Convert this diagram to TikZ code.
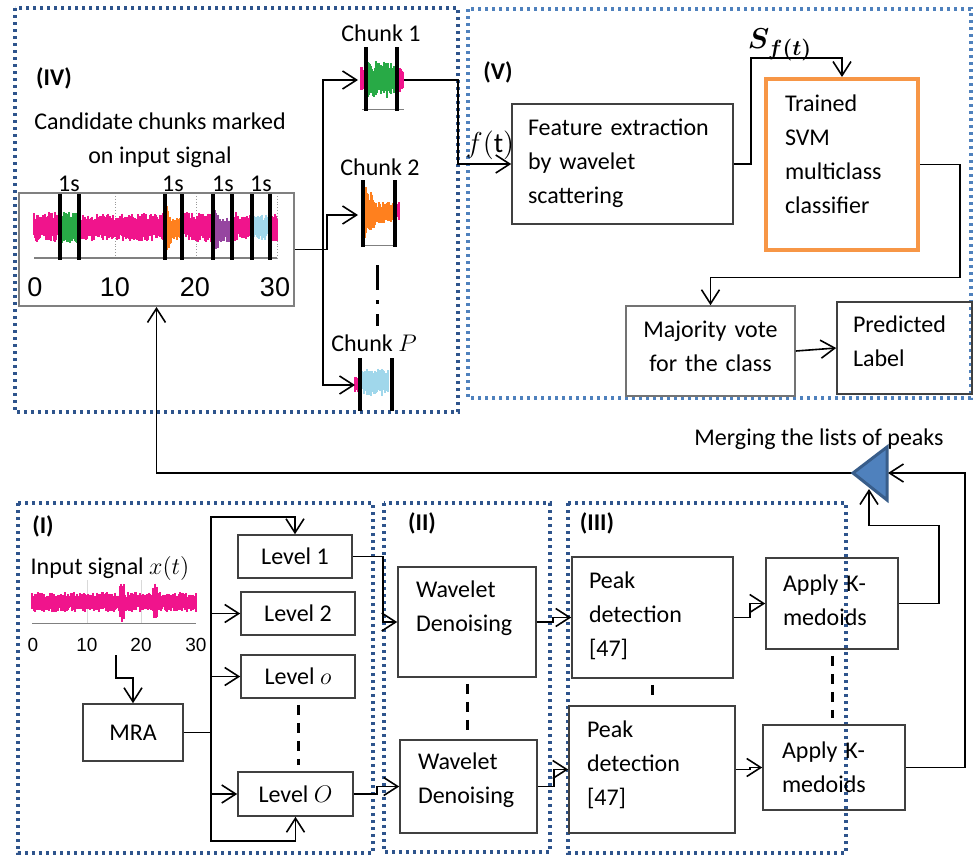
\documentclass[tikz,border=0pt]{standalone}
\usepackage{fontspec}
\setmainfont{Carlito}
\newfontfamily\axisfont{Liberation Sans}
\usepackage{bm}
\usetikzlibrary{arrows.meta,calc}
\tikzset{>={Straight Barb[length=7pt,width=9pt]}}

\definecolor{regdark}{RGB}{46,84,140}
\definecolor{reglight}{RGB}{79,129,189}
\definecolor{svmorange}{RGB}{247,150,70}
\definecolor{mrgfill}{RGB}{79,129,189}
\definecolor{mrgline}{RGB}{56,93,138}
\definecolor{sigpink}{RGB}{240,20,140}
\definecolor{siggreen}{RGB}{40,170,70}
\definecolor{sigorange}{RGB}{255,128,30}
\definecolor{sigpurple}{RGB}{150,70,160}
\definecolor{sigblue}{RGB}{160,215,235}

\tikzset{
  region/.style={line width=1.6pt, dash pattern=on 1.6pt off 1.9pt},
  blk/.style={draw=black!75, line width=0.8pt, inner ysep=0pt},
  lft/.style={blk, align=left, text height=9pt, text depth=#1},
  ctr/.style={blk, align=center},
  link/.style={line width=0.8pt},
  gap/.style={line width=1.5pt, dash pattern=on 5pt off 4pt, shorten <=3pt, shorten >=3pt},
  cut/.style={line width=2pt},
  tag/.style={font=\fontsize{12}{17}\selectfont\bfseries},
}

% noise band: colour, first x, last x, centre y, half height (may use \nx)
\newcommand{\noiseband}[5]{%
  \foreach \nx in {#2,...,#3}{
    \pgfmathsetmacro{\nup}{(#5)*(0.45+0.55*rnd)}
    \pgfmathsetmacro{\ndn}{(#5)*(0.45+0.55*rnd)}
    \draw[#1,line width=0.55pt] (\nx,#4-\nup) -- (\nx,#4+\ndn);
  }}

\begin{document}
\begin{tikzpicture}[x=0.5pt,y=-0.5pt,font=\fontsize{12}{17}\selectfont]
\useasboundingbox (0,0) rectangle (973,857);
\pgfmathsetseed{7}

% Stage frames
\draw[region,regdark]  (15,8)   rectangle (458,412);
\draw[region,reglight] (468,9)  rectangle (971,398);
\draw[region,regdark]  (18,503) rectangle (373,853);
\draw[region,regdark]  (384,503) rectangle (550,852);
\draw[region,regdark]  (568,503) rectangle (846,853);
\node[tag] (tagIV)  at (54,78)   {(IV)};
\node[tag] (tagV)   at (498,72)  {(V)};
\node[tag] (tagI)   at (43,526)  {(I)};
\node[tag] (tagII)  at (422,523) {(II)};
\node[tag] (tagIII) at (597,523) {(III)};

% Input signal with the candidate chunks
\node[align=center] (cand) at (160,140) {Candidate chunks marked\\on input signal};
\node[draw=black!50, line width=1pt, minimum width=137.5pt, minimum height=56.5pt, inner sep=0pt] (sig) at (156.5,249.5) {};
\foreach \g in {115,196,277}
  \draw[black!40, densely dotted, line width=0.4pt] (\g,196) -- (\g,258);
\draw[black!50, line width=0.6pt] (34,258) -- (277,258);
\noiseband{sigpink}{34}{59}{227}{15}
\noiseband{siggreen}{61}{78}{227}{16}
\noiseband{sigpink}{80}{164}{227}{14}
\noiseband{sigorange}{166}{181}{229}{max(12,26-2*(\nx-166))}
\noiseband{sigpink}{183}{212}{227}{15}
\noiseband{sigpurple}{214}{231}{230}{max(13,30-3*(\nx-214))}
\noiseband{sigpink}{233}{251}{227}{15}
\noiseband{sigblue}{253}{269}{227}{13}
\noiseband{sigpink}{271}{277}{227}{15}
\foreach \b in {60,79,165,182,213,232,252,270}
  \draw[cut] (\b,194) -- (\b,260);
\foreach \s/\xp in {a/69,b/173,c/223,d/261}
  \node (one\s) at (\xp,184) {1s};
\foreach \t/\xp in {0/35,10/115,20/195,30/275}
  \node[font=\axisfont\fontsize{13.5}{16}\selectfont] (ax\t) at (\xp,287) {\t};

% Chunk 1
\node (lab1) at (381,33) {Chunk 1};
\noiseband{sigpink}{361}{364}{80}{14}
\noiseband{siggreen}{367}{396}{80}{19}
\noiseband{sigpink}{399}{403}{80}{14}
\draw[black!50, line width=0.5pt] (362,109) -- (404,109);
\draw[cut] (366,47) -- (366,111);
\draw[cut] (397,47) -- (397,111);
\coordinate (c1w) at (358,80);
\coordinate (c1e) at (404,80);

% Chunk 2
\node (lab2) at (380,167) {Chunk 2};
\noiseband{sigorange}{365}{393}{213}{max(11,33-2*(\nx-365))}
\noiseband{sigpink}{396}{399}{211}{13}
\draw[black!50, line width=0.5pt] (365,245) -- (395,245);
\draw[cut] (363,180) -- (363,247);
\draw[cut] (395,180) -- (395,247);
\coordinate (c2w) at (358,215);

% Chunk P
\node (labP) at (374,343) {Chunk $P$};
\noiseband{sigpink}{355}{358}{384}{9}
\noiseband{sigblue}{362}{388}{382}{14}
\draw[cut] (360,358) -- (360,411);
\draw[cut] (392,358) -- (392,411);
\coordinate (cPw) at (355,385);
\draw[line width=1.5pt, dash pattern=on 12.5pt off 5pt on 2pt off 5pt] (377,265) -- (377,326);

% Split into chunks
\draw[link] (sig.east) -- ++(28,0) coordinate (split);
\draw[link,->] (split) |- (c1w);
\draw[link,->] (split) |- (cPw);
\draw[link,->] (split) -- ++(4,0) |- (c2w);

% Classification (V)
\node[lft=38pt, minimum width=110.5pt, minimum height=60pt, text width=94.5pt, inner xsep=8pt] (feat) at (622.5,164) {Feature extraction\\by wavelet\\scattering};
\node[lft=62.5pt, draw=svmorange, line width=2pt, minimum width=76pt, minimum height=85.5pt, text width=57pt, inner xsep=9.5pt] (svm) at (842,164.5) {Trained\\SVM\\multiclass\\classifier};
\node[blk, align=center, draw=black!55, minimum width=84.5pt, minimum height=45pt, text width=74.5pt, inner xsep=5pt, text height=9pt, text depth=23pt] (vote) at (710.5,351) {Majority vote\\for the class};
\node[lft=25pt, minimum width=67.5pt, minimum height=46pt, text width=51.5pt, inner xsep=8pt] (pred) at (904.5,348) {Predicted\\Label};
\draw[link,->] (c1e) -- ++(54,0) |- (feat.west);
\node[font=\fontsize{14}{16}\selectfont] (ft) at (490,145) {$f(\mathrm{t})$};
\draw[link,->] (feat.east) -- ++(17,0) -- ++(0,-106) -| (svm.north);
\node[font=\fontsize{15}{17}\selectfont] (sft) at (780,45) {$\bm{S}_{\bm{f(t)}}$};
\draw[link,->] (svm.east) -- ++(40,0) -- ++(0,113) -| (vote.north);
\draw[link,->] (vote.east) -- (pred.west);

% Merging of the peak lists, fed back to the input signal
\coordinate (mrg) at (853,473);
\coordinate (mrgS) at (869,489);
\coordinate (mrgE) at (888,473);
\draw[link,->] (mrg) -| (sig.south);
\filldraw[fill=mrgfill, draw=mrgline, line width=1.5pt] (mrg) -- (887,447) -- (887,500) -- cycle;
\node (mrglab) at (819,439) {Merging the lists of peaks};

% Decomposition (I)
\node (inlab) at (110,568) {Input signal $x(t)$};
\foreach \g in {87,141}
  \draw[black!15, line width=0.5pt] (\g,580) -- (\g,623);
\draw[black!50, line width=0.5pt] (32,623) -- (196,623);
\noiseband{sigpink}{32}{196}{602}{(abs(\nx-122)<3 ? 21 : (abs(\nx-155)<3 ? 19 : 10))}
\foreach \t/\xp in {0/33,10/87,20/141,30/196}
  \node[font=\axisfont\fontsize{9.5}{12}\selectfont] (bx\t) at (\xp,645) {\t};
\coordinate (xin) at (116,655);
\node[ctr, minimum width=50pt, minimum height=28.5pt] (mra) at (133,732.5) {MRA};
\node[ctr, minimum width=57pt, minimum height=21.5pt] (lvl1) at (295,556.5) {Level 1};
\node[ctr, minimum width=57pt, minimum height=21.5pt] (lvl2) at (298,613.5) {Level 2};
\node[ctr, minimum width=57pt, minimum height=21.5pt] (lvlo) at (298,676.5) {Level $o$};
\node[ctr, minimum width=57.5pt, minimum height=22pt] (lvlO) at (295.5,794) {Level $O$};
\draw[link,->] (xin) -- ++(0,23) -| (mra.north);
\draw[link] (mra.east) -- ++(27,0) coordinate (trunk);
\draw[link,->] (trunk) -- ++(0,-215.5) -| (lvl1.north);
\draw[link,->] (trunk) |- (lvl2.west);
\draw[link,->] (trunk) |- (lvlo.west);
\draw[link,->] (trunk) |- (lvlO.west);
\draw[link,->] (trunk) -- ++(0,108.5) -| (lvlO.south);
\draw[gap] (lvlo.south) -- (lvlo.south |- lvlO.north);

% Denoising (II)
\node[lft=34pt, minimum width=69pt, minimum height=55pt, text width=51pt, inner xsep=9pt] (wd1) at (467,622) {Wavelet\\Denoising};
\node[lft=26.5pt, minimum width=68.5pt, minimum height=46.5pt, text width=50.5pt, inner xsep=9pt] (wd2) at (468.5,786.5) {Wavelet\\Denoising};
\draw[link,->] (lvl1.east) -- ++(30,0) |- (wd1.west);
\draw[link,->] (lvlO.east) -- ++(23,0) |- (wd2.west);
\draw[gap] (wd1.south) -- (wd1.south |- wd2.north);

% Peak detection and clustering (III)
\node[lft=38.5pt, minimum width=80.5pt, minimum height=60.5pt, text width=63.5pt, inner xsep=8.5pt] (pd1) at (652.5,617.5) {Peak\\detection\\{[47]}};
\node[lft=41.5pt, minimum width=83pt, minimum height=63.5pt, text width=65pt, inner xsep=9pt] (pd2) at (652,769.5) {Peak\\detection\\{[47]}};
\node[lft=21.5pt, minimum width=66pt, minimum height=45.5pt, text width=49pt, inner xsep=8.5pt] (km1) at (832,603.5) {Apply K-\\medoids};
\node[lft=18.5pt, minimum width=71pt, minimum height=42.5pt, text width=52pt, inner xsep=9.5pt] (km2) at (834,767.5) {Apply K-\\medoids};
\draw[link,->] (wd1.east) -- ++(16,0) |- (pd1.west);
\draw[link,->] (wd2.east) -- ++(16,0) |- (pd2.west);
\draw[link,->] (pd1.east) -- ++(16,0) |- (km1.west);
\draw[link,->] (pd2.east) -- ++(14,0) |- (km2.west);
\draw[gap] (pd1.south) -- (pd1.south |- pd2.north);
\draw[gap] (km1.south) -- (km1.south |- km2.north);
\draw[link,->] (km1.east) -- ++(40,0) -- ++(0,-78) -| (mrgS);
\draw[link,->] (km2.east) -- ++(59,0) |- (mrgE);
\end{tikzpicture}
\end{document}
